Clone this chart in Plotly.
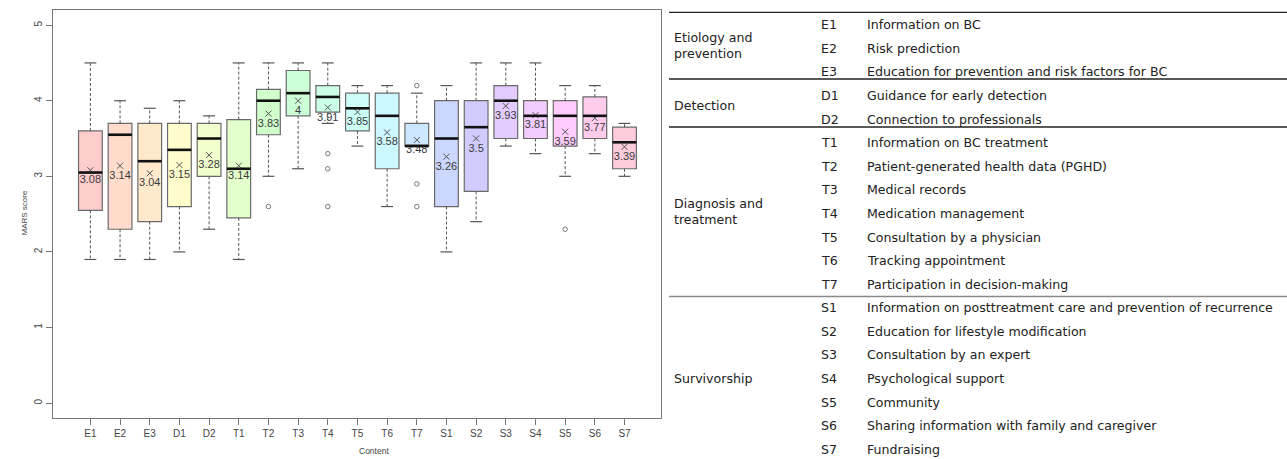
import plotly.graph_objects as go

# ---- box-plot statistics per content item ----
codes = ["E1", "E2", "E3", "D1", "D2", "T1", "T2", "T3", "T4", "T5",
         "T6", "T7", "S1", "S2", "S3", "S4", "S5", "S6", "S7"]
whisk_low = [1.9, 1.9, 1.9, 2.0, 2.3, 1.9, 3.0, 3.1, 3.7, 3.4,
             2.6, 3.4, 2.0, 2.4, 3.4, 3.3, 3.0, 3.3, 3.0]
q1 = [2.55, 2.3, 2.4, 2.6, 3.0, 2.45, 3.55, 3.8, 3.85, 3.6,
      3.1, 3.4, 2.6, 2.8, 3.5, 3.5, 3.4, 3.5, 3.1]
median = [3.05, 3.55, 3.2, 3.35, 3.5, 3.1, 4.0, 4.1, 4.05, 3.9,
          3.8, 3.4, 3.5, 3.65, 4.0, 3.8, 3.8, 3.8, 3.45]
q3 = [3.6, 3.7, 3.7, 3.7, 3.7, 3.75, 4.15, 4.4, 4.2, 4.1,
      4.1, 3.7, 4.0, 4.0, 4.2, 4.0, 4.0, 4.05, 3.65]
whisk_high = [4.5, 4.0, 3.9, 4.0, 3.8, 4.5, 4.5, 4.5, 4.5, 4.2,
              4.2, 4.1, 4.2, 4.5, 4.5, 4.5, 4.2, 4.2, 3.7]
means = [3.08, 3.14, 3.04, 3.15, 3.28, 3.14, 3.83, 4.0, 3.91, 3.85,
         3.58, 3.48, 3.26, 3.5, 3.93, 3.81, 3.59, 3.77, 3.39]
outlier_codes = ["T2", "T4", "T4", "T4", "T7", "T7", "T7", "S5"]
outlier_vals = [2.6, 3.3, 3.1, 2.6, 4.2, 2.9, 2.6, 2.3]

fills = ["#FFCCCC", "#FFDCCC", "#FFE9CC", "#FFFCCC", "#F0FFCC", "#E2FFCC",
         "#D1FFCC", "#CCFFD7", "#CCFFE7", "#CCFFF7", "#CCF7FF", "#CCE7FF",
         "#CCD7FF", "#D1CCFF", "#E2CCFF", "#F2CCFF", "#FFCCFC", "#FFCCEC",
         "#FFCCDC"]

y_ticks = [0, 1, 2, 3, 4, 5]

# ---- table of content items ----
groups = ["Etiology and<br>prevention", "Detection", "Diagnosis and<br>treatment", "Survivorship"]
descriptions = [
    "Information on BC",
    "Risk prediction",
    "Education for prevention and risk factors for BC",
    "Guidance for early detection",
    "Connection to professionals",
    "Information on BC treatment",
    "Patient-generated health data (PGHD)",
    "Medical records",
    "Medication management",
    "Consultation by a physician",
    "Tracking appointment",
    "Participation in decision-making",
    "Information on posttreatment care and prevention of recurrence",
    "Education for lifestyle modification",
    "Consultation by an expert",
    "Psychological support",
    "Community",
    "Sharing information with family and caregiver",
    "Fundraising",
]

W, H = 1287, 459


def px(x):
    return x / W


def py(y):
    return 1 - y / H


xs = list(range(1, len(codes) + 1))
fig = go.Figure()

# boxes
for i, c in enumerate(codes):
    fig.add_trace(go.Box(
        x=[xs[i]], q1=[q1[i]], median=[median[i]], q3=[q3[i]],
        lowerfence=[q1[i]], upperfence=[q3[i]],
        width=0.8, fillcolor=fills[i],
        line=dict(color="#6a6a6a", width=1.2),
        boxpoints=False, hoverinfo="skip", showlegend=False,
    ))

# dashed whiskers
wx, wy = [], []
for i in range(len(codes)):
    wx += [xs[i], xs[i], None, xs[i], xs[i], None]
    wy += [q3[i], whisk_high[i], None, q1[i], whisk_low[i], None]
fig.add_trace(go.Scatter(x=wx, y=wy, mode="lines",
                         line=dict(color="#555555", width=1, dash="3px,2px"),
                         hoverinfo="skip", showlegend=False))

# whisker caps
cx, cy = [], []
for i in range(len(codes)):
    for v in (whisk_high[i], whisk_low[i]):
        cx += [xs[i] - 0.2, xs[i] + 0.2, None]
        cy += [v, v, None]
fig.add_trace(go.Scatter(x=cx, y=cy, mode="lines",
                         line=dict(color="#555555", width=1.2),
                         hoverinfo="skip", showlegend=False))

# outliers
fig.add_trace(go.Scatter(
    x=[xs[codes.index(c)] for c in outlier_codes], y=outlier_vals,
    mode="markers",
    marker=dict(symbol="circle-open", size=4.5, color="#777777", line=dict(width=1)),
    hoverinfo="skip", showlegend=False))

# means with value labels
fig.add_trace(go.Scatter(
    x=xs, y=means, mode="markers+text",
    marker=dict(symbol="x-thin", size=6, line=dict(color="#555555", width=1)),
    text=[f"{m:g}" for m in means], textposition="bottom center",
    textfont=dict(family="Liberation Sans, Arial", size=11, color="#3a3a3a"),
    hoverinfo="skip", showlegend=False))

# medians
mx, my = [], []
for i in range(len(codes)):
    mx += [xs[i] - 0.4, xs[i] + 0.4, None]
    my += [median[i], median[i], None]
fig.add_trace(go.Scatter(x=mx, y=my, mode="lines",
                         line=dict(color="#111111", width=2.6),
                         hoverinfo="skip", showlegend=False))

axis_font = dict(family="Liberation Sans, Arial", size=10, color="#444444")

fig.update_layout(
    width=W, height=H,
    margin=dict(l=0, r=0, t=0, b=0),
    paper_bgcolor="white", plot_bgcolor="white",
    boxmode="overlay",
    xaxis=dict(
        domain=[px(53), px(661)], range=[-0.26, 20.23],
        tickmode="array", tickvals=xs, ticktext=codes,
        showline=True, mirror=True, linecolor="#777777", linewidth=1,
        ticks="outside", ticklen=6, tickcolor="#777777",
        showgrid=False, zeroline=False, tickfont=axis_font,
    ),
    yaxis=dict(
        domain=[py(418), py(10)], range=[-0.197, 5.2],
        tickmode="array", tickvals=y_ticks, ticktext=[str(t) for t in y_ticks],
        tickangle=-90,
        showline=True, mirror=True, linecolor="#777777", linewidth=1,
        ticks="outside", ticklen=6, tickcolor="#777777",
        showgrid=False, zeroline=False, tickfont=axis_font,
    ),
)

annotations = [
    dict(text="MARS score", x=px(17), y=py(213), xref="paper", yref="paper",
         textangle=-90, showarrow=False,
         font=dict(family="Liberation Sans, Arial", size=8, color="#444444")),
    dict(text="Content", x=px(357), y=py(458), xref="paper", yref="paper",
         yanchor="bottom", showarrow=False,
         font=dict(family="Liberation Sans, Arial", size=8.5, color="#444444")),
]

table_font = dict(family="DejaVu Sans, sans-serif", size=12.6, color="#222222")
row_y0, row_step = 27.3, 23.58
text_lift = 2.5


def row_y(r):
    return row_y0 + row_step * r - text_lift


for r, (code, desc) in enumerate(zip(codes, descriptions)):
    annotations.append(dict(text=code, x=px(819), y=py(row_y(r)), xref="paper", yref="paper",
                            xanchor="left", yanchor="middle", showarrow=False, font=table_font))
    annotations.append(dict(text=desc, x=px(865), y=py(row_y(r)), xref="paper", yref="paper",
                            xanchor="left", yanchor="middle", showarrow=False, font=table_font))

group_centers = [48, 108.3, 214, 381]
for g, yc in zip(groups, group_centers):
    annotations.append(dict(text=g, x=px(672), y=py(yc - text_lift), xref="paper", yref="paper",
                            xanchor="left", yanchor="middle", align="left",
                            showarrow=False, font=table_font))

fig.update_layout(annotations=annotations)

# table rules
shapes = []
for yline, col in [(12.3, "#222222"), (79, "#222222"), (127, "#222222"), (296.5, "#8a8a8a")]:
    shapes.append(dict(type="line", xref="paper", yref="paper",
                       x0=px(669), x1=1, y0=py(yline), y1=py(yline),
                       line=dict(color=col, width=1.3)))
fig.update_layout(shapes=shapes)

fig.write_html("out.html")
